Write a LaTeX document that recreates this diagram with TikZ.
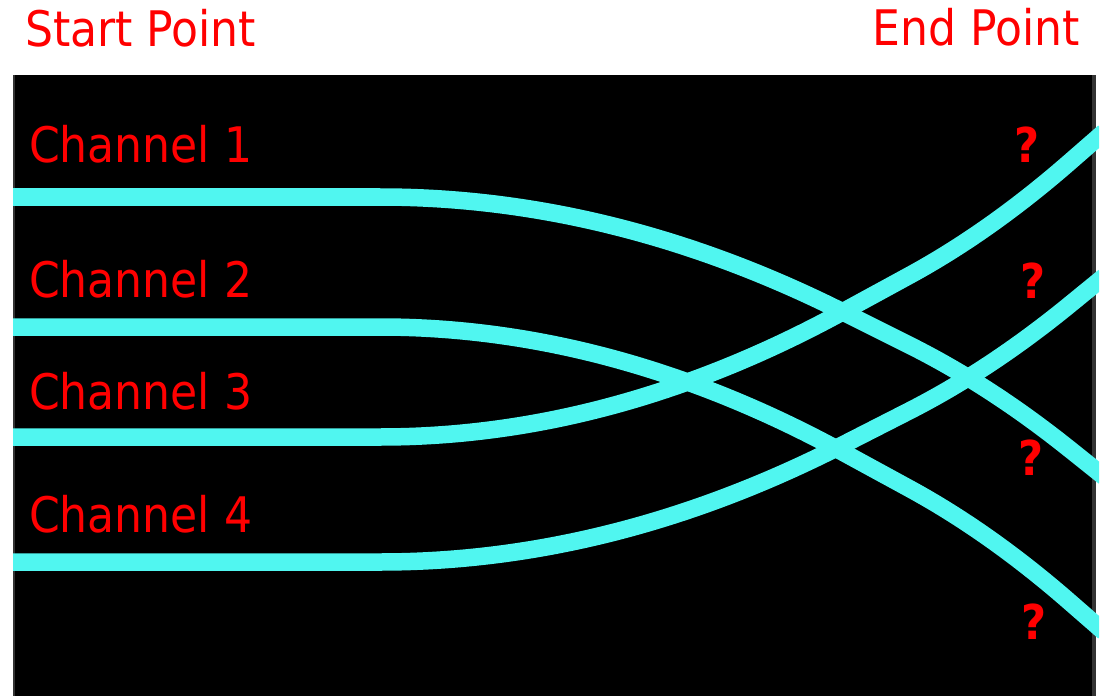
\documentclass[tikz,border=0pt]{standalone}
\usepackage{fontspec}
\setmainfont{DejaVu Sans Condensed}
\definecolor{chancyan}{RGB}{80,246,240}
\definecolor{edgegray}{RGB}{51,51,51}
\begin{document}
\begin{tikzpicture}[x=1bp,y=-1bp,
  lbl/.style={text=red,inner sep=0pt,font=\fontsize{49bp}{57bp}\selectfont},
  qm/.style={text=red,inner sep=0pt,font=\fontsize{48bp}{56bp}\selectfont\bfseries,anchor=base},
  chan/.style={draw=chancyan,line width=17.5bp},
  chancurve/.pic={
    \draw[chan] (13,0) -- (380,0)
      .. controls (535,0) and (690,38.3) .. (843,115)
      -- (910,148.5)
      .. controls (963.3,175.2) and (1016.7,209.8) .. (1070,252.5)
      -- (1104,279.7);
  }]
\useasboundingbox (0,0) rectangle (1109,696);
% panel
\fill[black] (13,75) rectangle (1096,696);
\fill[edgegray] (13,75) rectangle (14.5,696);
\fill[edgegray] (1092,75) rectangle (1096,696);
% channels
\begin{scope}
\clip (13,75) rectangle (1099,696);
\pic (ch1) at (0,197) {chancurve};
\pic[yscale=1.09] (ch2) at (0,327) {chancurve};
\pic[yscale=-1.09] (ch3) at (0,437) {chancurve};
\pic[yscale=-1.02] (ch4) at (0,562) {chancurve};
\end{scope}
% labels
\node[lbl,anchor=base west] (start) at (25,47) {Start Point};
\node[lbl,anchor=base east] (end) at (1080,46) {End Point};
\node[lbl,anchor=base west] (c1) at (29,163) {Channel 1};
\node[lbl,anchor=base west] (c2) at (29,297) {Channel 2};
\node[lbl,anchor=base west] (c3) at (29,409) {Channel 3};
\node[lbl,anchor=base west] (c4) at (29,532) {Channel 4};
\node[qm] (q1) at (1027,163) {?};
\node[qm] (q2) at (1033,298) {?};
\node[qm] (q3) at (1031,475) {?};
\node[qm] (q4) at (1034,639) {?};
\end{tikzpicture}
\end{document}
